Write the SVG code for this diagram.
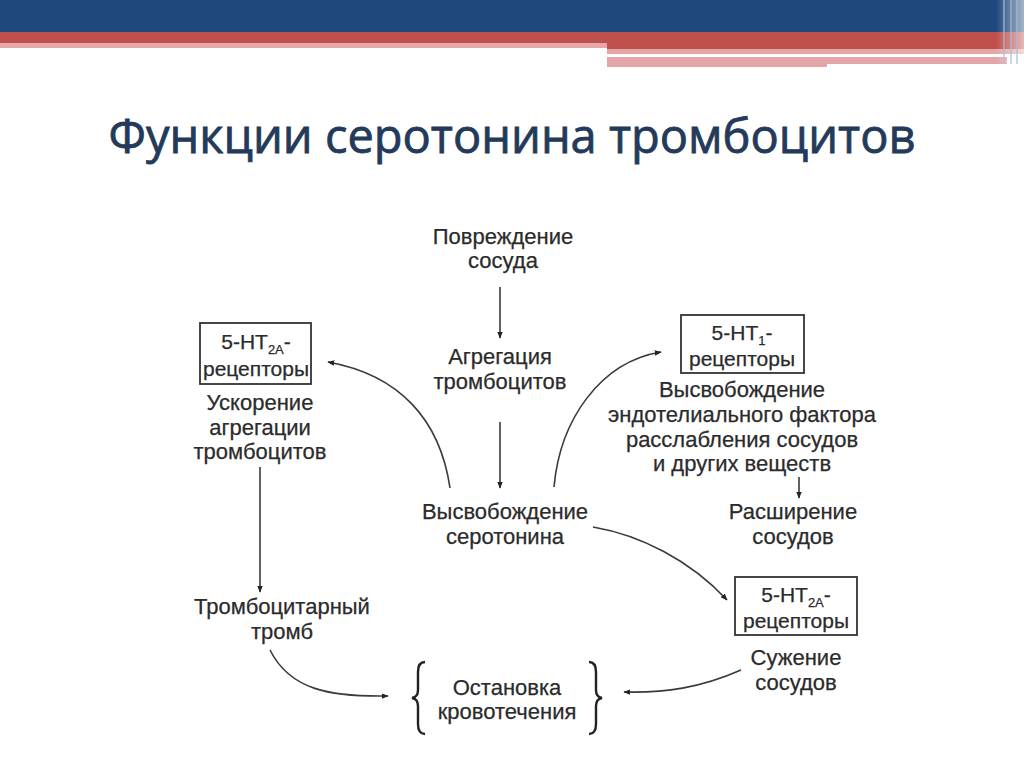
<svg xmlns="http://www.w3.org/2000/svg" width="1024" height="767" viewBox="0 0 1024 767">
<defs>
<style>
.t{font-family:"Liberation Sans",Arial,sans-serif;font-size:22px;fill:#2b2b2b;text-anchor:middle;stroke:#2b2b2b;stroke-width:0.25}
.s{font-size:21px}
.c{fill:none;stroke:#3a3a3a;stroke-width:1.6}
.b{fill:#fff;stroke:#333;stroke-width:1.8}
.br{fill:none;stroke:#222;stroke-width:2.4}
</style>
<marker id="ah" viewBox="0 0 10 10" refX="9" refY="5" markerWidth="7" markerHeight="7" orient="auto" markerUnits="userSpaceOnUse">
<path d="M0,1 L10,5 L0,9 Z" fill="#222"/>
</marker>
<linearGradient id="edge" x1="0" x2="1" y1="0" y2="0">
<stop offset="0" stop-color="#fff" stop-opacity="0"/>
<stop offset="1" stop-color="#fff" stop-opacity="0.6"/>
</linearGradient>
</defs>
<rect width="1024" height="767" fill="#fff"/>
<g id="header">
<rect x="0" y="0" width="1024" height="32" fill="#1f497d"/>
<rect x="0" y="32" width="1024" height="11" fill="#c0504d"/>
<rect x="0" y="43" width="607" height="5" fill="#e6a8a8"/>
<rect x="607" y="43" width="417" height="6" fill="#c0504d"/>
<rect x="607" y="49" width="417" height="5" fill="#e3a5a5"/>
<rect x="607" y="57" width="400" height="7" fill="#e3a5a5"/>
<rect x="607" y="64" width="220" height="3" fill="#e3a5a5"/>
<rect x="996" y="0" width="28" height="64" fill="url(#edge)"/>
<rect x="1003" y="0" width="2" height="64" fill="#a9bcd6" opacity="0.6"/>
<rect x="1010" y="0" width="2" height="64" fill="#a9bcd6" opacity="0.6"/>
<rect x="1016" y="0" width="2" height="64" fill="#a9bcd6" opacity="0.6"/>
</g>
<text id="title" x="512" y="153" font-family="'Open Sans','Liberation Sans',sans-serif" font-size="47" fill="#243a5a" stroke="#243a5a" stroke-width="0.8" text-anchor="middle">Функции серотонина тромбоцитов</text>
<g id="connectors">
<line class="c" x1="500" y1="287" x2="500" y2="338" marker-end="url(#ah)"/>
<line class="c" x1="500" y1="422" x2="500" y2="488" marker-end="url(#ah)"/>
<path class="c" d="M450,488 C440,420 400,375 328,362" marker-end="url(#ah)"/>
<path class="c" d="M554,487 C560,420 600,362 661,352" marker-end="url(#ah)"/>
<line class="c" x1="260" y1="467" x2="260" y2="592" marker-end="url(#ah)"/>
<path class="c" d="M270,650 C290,690 330,697 388,696" marker-end="url(#ah)"/>
<line class="c" x1="799" y1="477" x2="799" y2="498" marker-end="url(#ah)"/>
<path class="c" d="M593,527 C640,535 690,560 727,600" marker-end="url(#ah)"/>
<path class="c" d="M741,670 C700,688 665,693 624,692" marker-end="url(#ah)"/>
</g>
<g id="n-damage">
<text class="t" x="503" y="244">Повреждение</text>
<text class="t" x="503" y="268">сосуда</text>
</g>
<g id="n-aggregation">
<text class="t" x="500" y="364">Агрегация</text>
<text class="t" x="500" y="389">тромбоцитов</text>
</g>
<g id="n-release">
<text class="t" x="505" y="519">Высвобождение</text>
<text class="t" x="505" y="544">серотонина</text>
</g>
<g id="n-5ht2a-left">
<rect class="b" x="200" y="323" width="111" height="61"/>
<text class="t s" x="256" y="349">5-HT<tspan font-size="13" dy="5">2A</tspan><tspan dy="-5">-</tspan></text>
<text class="t s" x="256" y="376">рецепторы</text>
<text class="t" x="260" y="410">Ускорение</text>
<text class="t" x="260" y="435">агрегации</text>
<text class="t" x="260" y="459">тромбоцитов</text>
</g>
<g id="n-thrombus">
<text class="t" x="282" y="614">Тромбоцитарный</text>
<text class="t" x="282" y="639">тромб</text>
</g>
<g id="n-stop">
<path class="br" d="M425,662 Q418,662 418,672 L418,690 Q418,697 412,698 Q418,699 418,706 L418,724 Q418,734 425,734"/>
<path class="br" d="M589,662 Q596,662 596,672 L596,690 Q596,697 602,698 Q596,699 596,706 L596,724 Q596,734 589,734"/>
<text class="t" x="507" y="695">Остановка</text>
<text class="t" x="507" y="719">кровотечения</text>
</g>
<g id="n-5ht1">
<rect class="b" x="681" y="315" width="123" height="58"/>
<text class="t s" x="742" y="340">5-HT<tspan font-size="13" dy="5">1</tspan><tspan dy="-5">-</tspan></text>
<text class="t s" x="742" y="366">рецепторы</text>
<text class="t" x="742" y="397">Высвобождение</text>
<text class="t" x="742" y="422">эндотелиального фактора</text>
<text class="t" x="742" y="447">расслабления сосудов</text>
<text class="t" x="742" y="471">и других веществ</text>
</g>
<g id="n-dilation">
<text class="t" x="793" y="519">Расширение</text>
<text class="t" x="793" y="544">сосудов</text>
</g>
<g id="n-5ht2a-right">
<rect class="b" x="735" y="577" width="122" height="58"/>
<text class="t s" x="796" y="602">5-HT<tspan font-size="13" dy="5">2A</tspan><tspan dy="-5">-</tspan></text>
<text class="t s" x="796" y="628">рецепторы</text>
<text class="t" x="796" y="665">Сужение</text>
<text class="t" x="796" y="690">сосудов</text>
</g>
</svg>
